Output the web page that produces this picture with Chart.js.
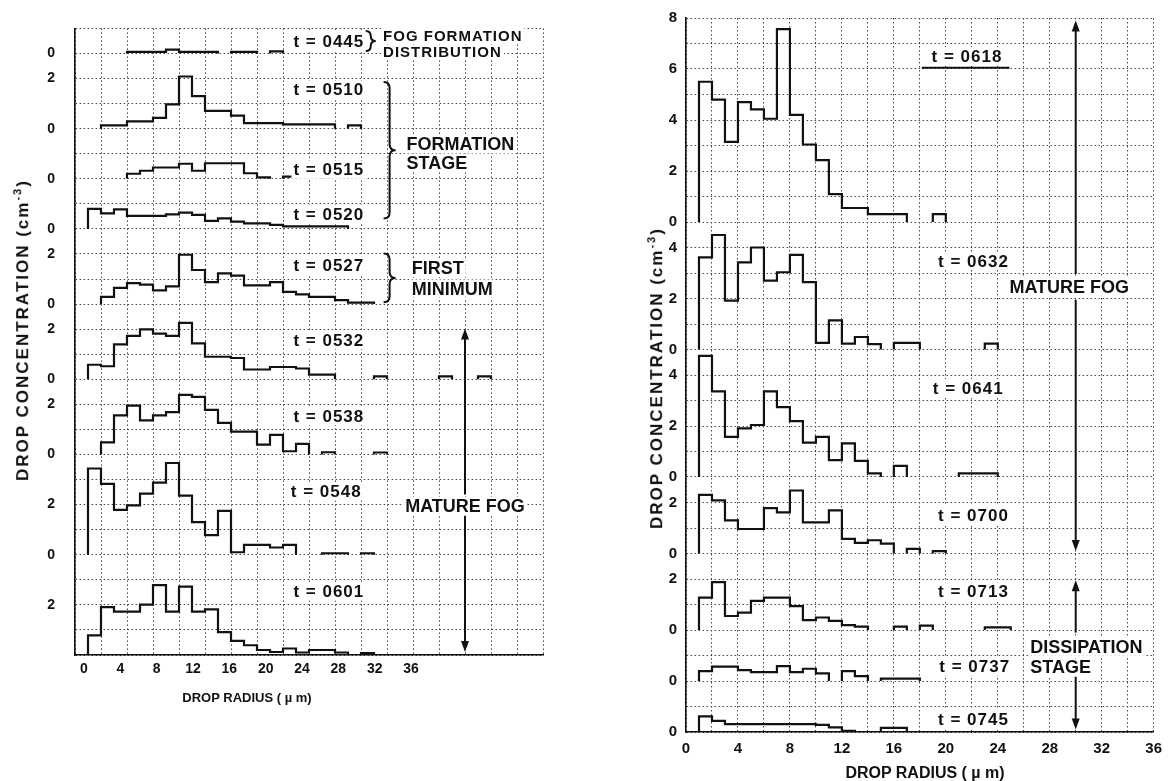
<!DOCTYPE html>
<html>
<head>
<meta charset="utf-8">
<title>Drop size distributions</title>
<script src="https://cdn.jsdelivr.net/npm/chart.js@4.4.1/dist/chart.umd.min.js"></script>
<style>
  body { margin: 0; width: 1170px; height: 781px; background: #fff; position: relative; overflow: hidden; font-family: 'Liberation Sans', Arial, sans-serif; color: #111; }
  .panel { position: absolute; top: 0; }
  .title { position: absolute; font-weight: bold; white-space: nowrap; transform: translate(-50%, -50%); }
  .title.vert { transform: translate(-50%, -50%) rotate(-90deg); font-size: 17px; letter-spacing: 2px; }
  sup { font-size: 11px; }
</style>
</head>
<body>
<div class="panel" style="left:0;width:560px;height:720px"><canvas id="leftChart"></canvas></div>
<div class="panel" style="left:600px;width:570px;height:781px"><canvas id="rightChart"></canvas></div>
<div class="title vert" style="left:22px;top:330px">DROP CONCENTRATION (cm<sup>-3</sup>)</div>
<div class="title vert" style="left:656px;top:378px">DROP CONCENTRATION (cm<sup>-3</sup>)</div>
<div class="title" style="left:247px;top:697px;font-size:13px">DROP RADIUS ( µ m)</div>
<div class="title" style="left:925px;top:773px;font-size:16px">DROP RADIUS ( µ m)</div>
<script>
// radius axis labels (µm)
const radiusTicks = [0, 4, 8, 12, 16, 20, 24, 28, 32, 36];

// drop concentration per 1 µm radius bin, index = lower edge of the bin (µm), null = no drops
// left panel
const c0445 = [null, null, null, null, 0.06, 0.06, 0.06, 0.15, 0.06, 0.06, 0.06, null, 0.06, 0.06, null, 0.08];
const c0510 = [null, null, 0.13, 0.13, 0.29, 0.29, 0.43, 0.97, 2.08, 1.3, 0.71, 0.71, 0.52, 0.22, 0.22, 0.22, 0.17, 0.17, 0.17, 0.17, null, 0.13];
const c0515 = [null, null, null, null, 0.2, 0.32, 0.45, 0.45, 0.6, 0.32, 0.62, 0.62, 0.62, 0.22, 0.06, null, 0.09, null, null, 0.07, 0.13];
const c0520 = [null, 0.8, 0.62, 0.78, 0.52, 0.52, 0.52, 0.58, 0.65, 0.56, 0.32, 0.42, 0.29, 0.22, 0.22, 0.16, 0.1, 0.1, 0.1, 0.1, 0.1];
const c0527 = [null, null, 0.29, 0.65, 0.84, 0.78, 0.55, 0.71, 1.97, 1.36, 0.88, 1.23, 1.14, 0.75, 0.75, 0.88, 0.49, 0.39, 0.29, 0.29, 0.16, 0.06, 0.06];
const c0532 = [null, 0.58, 0.52, 1.39, 1.73, 1.99, 1.82, 1.73, 2.25, 1.43, 0.9, 0.9, 0.85, 0.39, 0.39, 0.49, 0.49, 0.43, 0.19, 0.19, null, null, null, 0.12, null, null, null, null, 0.12, null, null, 0.12];
const c0538 = [null, null, 0.48, 1.56, 1.95, 1.36, 1.56, 1.69, 2.38, 2.3, 1.78, 1.26, 0.91, 0.91, 0.39, 0.78, 0.13, 0.42, null, 0.09, null, null, null, 0.08];
const c0548 = [null, 3.44, 2.83, 1.79, 1.97, 2.44, 2.88, 3.66, 2.36, 1.3, 0.78, 1.75, 0.1, 0.39, 0.39, 0.29, 0.39, null, null, 0.06, 0.06, null, 0.06];
const c0601 = [null, 0.78, 1.91, 1.73, 1.73, 2.01, 2.79, 1.73, 2.73, 1.73, 1.82, 0.91, 0.56, 0.39, 0.2, 0.12, 0.26, 0.1, 0.2, 0.2, 0.1, null, 0.08];
// right panel
const c0618 = [null, 5.5, 4.8, 3.14, 4.7, 4.42, 4.05, 7.56, 4.2, 3.04, 2.43, 1.09, 0.55, 0.55, 0.31, 0.31, 0.31, null, null, 0.31];
const c0632 = [null, 3.61, 4.49, 1.92, 3.42, 4.0, 2.7, 3.03, 3.71, 2.64, 0.26, 1.14, 0.23, 0.49, 0.21, null, 0.26, 0.26, null, null, null, null, null, 0.23];
const c0641 = [null, 4.75, 3.36, 1.57, 1.91, 2.04, 3.36, 2.74, 2.19, 1.35, 1.57, 0.66, 1.32, 0.63, 0.14, null, 0.44, null, null, null, null, 0.14, 0.14, 0.14];
const c0700 = [null, 2.3, 2.08, 1.3, 0.96, 0.96, 1.78, 1.61, 2.47, 1.22, 1.22, 1.69, 0.57, 0.42, 0.52, 0.39, null, 0.18, null, 0.09];
const c0713 = [null, 1.27, 1.88, 0.55, 0.68, 1.14, 1.27, 1.27, 0.94, 0.39, 0.49, 0.36, 0.19, 0.13, null, null, 0.13, null, 0.17, null, null, null, null, 0.1, 0.1];
const c0737 = [null, 0.39, 0.56, 0.56, 0.43, 0.35, 0.35, 0.58, 0.35, 0.48, 0.3, null, 0.39, 0.19, null, 0.09, 0.09, 0.09];
const c0745 = [null, 0.61, 0.44, 0.31, 0.31, 0.31, 0.31, 0.31, 0.31, 0.31, 0.28, 0.18, 0.05, null, null, 0.16, 0.16];

const leftTimes = ['0445', '0510', '0515', '0520', '0527', '0532', '0538', '0548', '0601'];
const rightTimes = ['0618', '0632', '0641', '0700', '0713', '0737', '0745'];
const leftSeries = [c0445, c0510, c0515, c0520, c0527, c0532, c0538, c0548, c0601];
const rightSeries = [c0618, c0632, c0641, c0700, c0713, c0737, c0745];

// where each distribution's zero sits on the stacked axis (grid units)
const leftBases = [24, 21, 19, 17, 14, 11, 8, 4, 0];
const rightBases = [20, 15, 10, 7, 4, 2, 0];

// concentration tick labels on the stacked axes
const leftTickValues = [24, 23, 21, 19, 17, 16, 14, 13, 11, 10, 8, 6, 4, 2];
const leftTickLabels = ['0', '2', '0', '0', '0', '2', '0', '2', '0', '2', '0', '2', '0', '2'];
const rightTickValues = [28, 26, 24, 22, 20, 19, 17, 15, 14, 12, 10, 9, 7, 6, 4, 2, 0];
const rightTickLabels = ['8', '6', '4', '2', '0', '4', '2', '0', '4', '2', '0', '2', '0', '2', '0', '0', '0'];

// text / arrows / braces (x in µm, y in grid units)
const leftNotes = {
  texts: [
    ['t = 0445', 16.8, 24.5, 't'], ['t = 0510', 16.8, 22.55, 't'], ['t = 0515', 16.8, 19.36, 't'],
    ['t = 0520', 16.8, 17.6, 't'], ['t = 0527', 16.8, 15.55, 't'], ['t = 0532', 16.8, 12.56, 't'],
    ['t = 0538', 16.8, 9.53, 't'], ['t = 0548', 16.6, 6.53, 't'], ['t = 0601', 16.8, 2.53, 't'],
    ['FOG FORMATION', 23.7, 24.72, 's'], ['DISTRIBUTION', 23.7, 24.05, 's'],
    ['FORMATION', 25.5, 20.37, 'b'], ['STAGE', 25.5, 19.63, 'b'],
    ['FIRST', 25.9, 15.43, 'b'], ['MINIMUM', 25.9, 14.62, 'b'],
    ['MATURE FOG', 25.4, 5.95, 'b']
  ],
  arrows: [[30, 6.4, 13.03], [30, 5.56, 0.12]],
  braces: [[24.2, 22.86, 17.42], [24.2, 16.02, 14.07], [22.75, 24.9, 24.1]],
  rules: []
};
const rightNotes = {
  texts: [
    ['t = 0618', 18.9, 26.5, 't'], ['t = 0632', 19.4, 18.47, 't'], ['t = 0641', 19.0, 13.49, 't'],
    ['t = 0700', 19.4, 8.51, 't'], ['t = 0713', 19.4, 5.52, 't'], ['t = 0737', 19.5, 2.57, 't'],
    ['t = 0745', 19.4, 0.5, 't'],
    ['MATURE FOG', 24.9, 17.46, 'b'],
    ['DISSIPATION', 26.5, 3.34, 'b'], ['STAGE', 26.5, 2.53, 'b']
  ],
  arrows: [[30, 17.96, 27.9], [30, 16.95, 7.1], [30, 3.9, 5.95], [30, 2.18, 0.1]],
  braces: [],
  rules: [[18.15, 24.9, 26.05]]
};

const fonts = {
  t: 'bold 17px "Liberation Sans"',
  s: 'bold 15px "Liberation Sans"',
  b: 'bold 18px "Liberation Sans"'
};

function stepPoints(vals, base) {
  const pts = [];
  let open = false;
  vals.forEach((v, r) => {
    if (v === null) {
      if (open) { pts.push({x: r, y: base}); pts.push({x: r, y: null}); open = false; }
      return;
    }
    if (!open) { pts.push({x: r, y: base}); open = true; }
    pts.push({x: r, y: base + v});
  });
  if (open) pts.push({x: vals.length, y: base});
  return pts;
}

function evenTicks(min, max, step) {
  const t = [];
  for (let v = min; v <= max + 1e-9; v += step) t.push({value: v});
  return t;
}

const notesPlugin = {
  id: 'notes',
  afterDatasetsDraw(chart, args, opts) {
    const ctx = chart.ctx;
    const xs = chart.scales.x, ys = chart.scales.y;
    ctx.save();
    ctx.strokeStyle = '#111';
    ctx.fillStyle = '#111';
    ctx.lineWidth = 2;
    opts.rules.forEach(([x1, x2, y]) => {
      ctx.beginPath();
      ctx.moveTo(xs.getPixelForValue(x1), ys.getPixelForValue(y));
      ctx.lineTo(xs.getPixelForValue(x2), ys.getPixelForValue(y));
      ctx.stroke();
    });
    opts.arrows.forEach(([x, from, to]) => {
      const px = xs.getPixelForValue(x);
      const y1 = ys.getPixelForValue(from), y2 = ys.getPixelForValue(to);
      const dir = y2 < y1 ? -1 : 1;
      ctx.beginPath();
      ctx.moveTo(px, y1);
      ctx.lineTo(px, y2 - dir * 8);
      ctx.stroke();
      ctx.beginPath();
      ctx.moveTo(px, y2);
      ctx.lineTo(px - 4, y2 - dir * 11);
      ctx.lineTo(px + 4, y2 - dir * 11);
      ctx.closePath();
      ctx.fill();
    });
    opts.braces.forEach(([x, top, bottom]) => {
      const px = xs.getPixelForValue(x);
      const y1 = ys.getPixelForValue(top), y2 = ys.getPixelForValue(bottom);
      const ym = (y1 + y2) / 2;
      const w = Math.min(6, (y2 - y1) / 4);
      ctx.beginPath();
      ctx.moveTo(px - w, y1);
      ctx.quadraticCurveTo(px, y1, px, y1 + w);
      ctx.lineTo(px, ym - w);
      ctx.quadraticCurveTo(px, ym, px + w, ym);
      ctx.quadraticCurveTo(px, ym, px, ym + w);
      ctx.lineTo(px, y2 - w);
      ctx.quadraticCurveTo(px, y2, px - w, y2);
      ctx.stroke();
    });
    ctx.textBaseline = 'middle';
    ctx.textAlign = 'left';
    opts.texts.forEach(([text, x, y, kind]) => {
      ctx.font = fonts[kind];
      ctx.letterSpacing = kind === 'b' ? '0px' : '1px';
      const px = xs.getPixelForValue(x), py = ys.getPixelForValue(y);
      const w = ctx.measureText(text).width;
      const h = kind === 's' ? 15 : 18;
      ctx.fillStyle = '#fff';
      ctx.fillRect(px - 2, py - h / 2, w + 4, h);
      ctx.fillStyle = '#111';
      ctx.fillText(text, px, py + 1);
    });
    ctx.restore();
  }
};

const gridStyle = {color: '#444', lineWidth: 1, drawTicks: false};
const borderStyle = {display: true, color: '#111', width: 1.6, dash: [1.5, 2.5]};
const tickFont = {family: 'Liberation Sans', weight: 'bold', size: 14};

function datasets(series, bases) {
  return series.map((vals, i) => ({
    label: 't = ' + (series === leftSeries ? leftTimes[i] : rightTimes[i]),
    data: stepPoints(vals, bases[i]),
    stepped: true,
    borderColor: '#111',
    borderWidth: 2.2,
    pointRadius: 0,
    fill: false,
    spanGaps: false
  }));
}

function yScale(max, values, labels, width, pad, size) {
  return {
    type: 'linear', min: 0, max: max,
    afterBuildTicks: s => { s.ticks = evenTicks(0, max, 1); },
    afterFit: s => { s.width = width; },
    grid: gridStyle,
    border: borderStyle,
    ticks: {
      autoSkip: false, padding: pad, color: '#111',
      font: Object.assign({}, tickFont, {size: size}),
      callback: v => { const i = values.indexOf(v); return i < 0 ? '' : labels[i]; }
    }
  };
}

const common = {
  type: 'line',
  options: {
    responsive: true,
    maintainAspectRatio: false,
    animation: false,
    events: [],
    plugins: { legend: {display: false}, tooltip: {enabled: false} }
  },
  plugins: [notesPlugin]
};

new Chart(document.getElementById('leftChart'), {
  ...common,
  data: { datasets: datasets(leftSeries, leftBases) },
  options: {
    ...common.options,
    layout: {padding: {top: 12, right: 17, bottom: 0, left: 0}},
    plugins: { ...common.options.plugins, notes: leftNotes },
    scales: {
      x: {
        type: 'linear', min: 0, max: 36, position: 'bottom',
        afterBuildTicks: s => { s.ticks = evenTicks(0, 36, 2); },
        afterFit: s => { s.height = 0; },
        grid: gridStyle, border: borderStyle,
        ticks: {display: false}
      },
      xl: {
        type: 'linear', min: -0.99, max: 50.53, position: 'bottom',
        afterBuildTicks: s => { s.ticks = radiusTicks.map(v => ({value: v})); },
        afterFit: s => { s.height = 65; },
        grid: {display: false, drawTicks: false}, border: {display: false},
        ticks: {autoSkip: false, maxRotation: 0, padding: 6, color: '#111', font: tickFont}
      },
      y: yScale(25, leftTickValues, leftTickLabels, 75, 20, 14)
    }
  }
});

new Chart(document.getElementById('rightChart'), {
  ...common,
  data: { datasets: datasets(rightSeries, rightBases) },
  options: {
    ...common.options,
    layout: {padding: {top: 12, right: 16, bottom: 0, left: 0}},
    plugins: { ...common.options.plugins, notes: rightNotes },
    scales: {
      x: {
        type: 'linear', min: 0, max: 36, position: 'bottom',
        afterBuildTicks: s => { s.ticks = evenTicks(0, 36, 2); },
        afterFit: s => { s.height = 49; },
        grid: gridStyle, border: borderStyle,
        ticks: {
          autoSkip: false, maxRotation: 0, padding: 8, color: '#111',
          font: Object.assign({}, tickFont, {size: 15}),
          callback: v => radiusTicks.includes(v) ? String(v) : ''
        }
      },
      y: yScale(28, rightTickValues, rightTickLabels, 86, 9, 15)
    }
  }
});
</script>
</body>
</html>
